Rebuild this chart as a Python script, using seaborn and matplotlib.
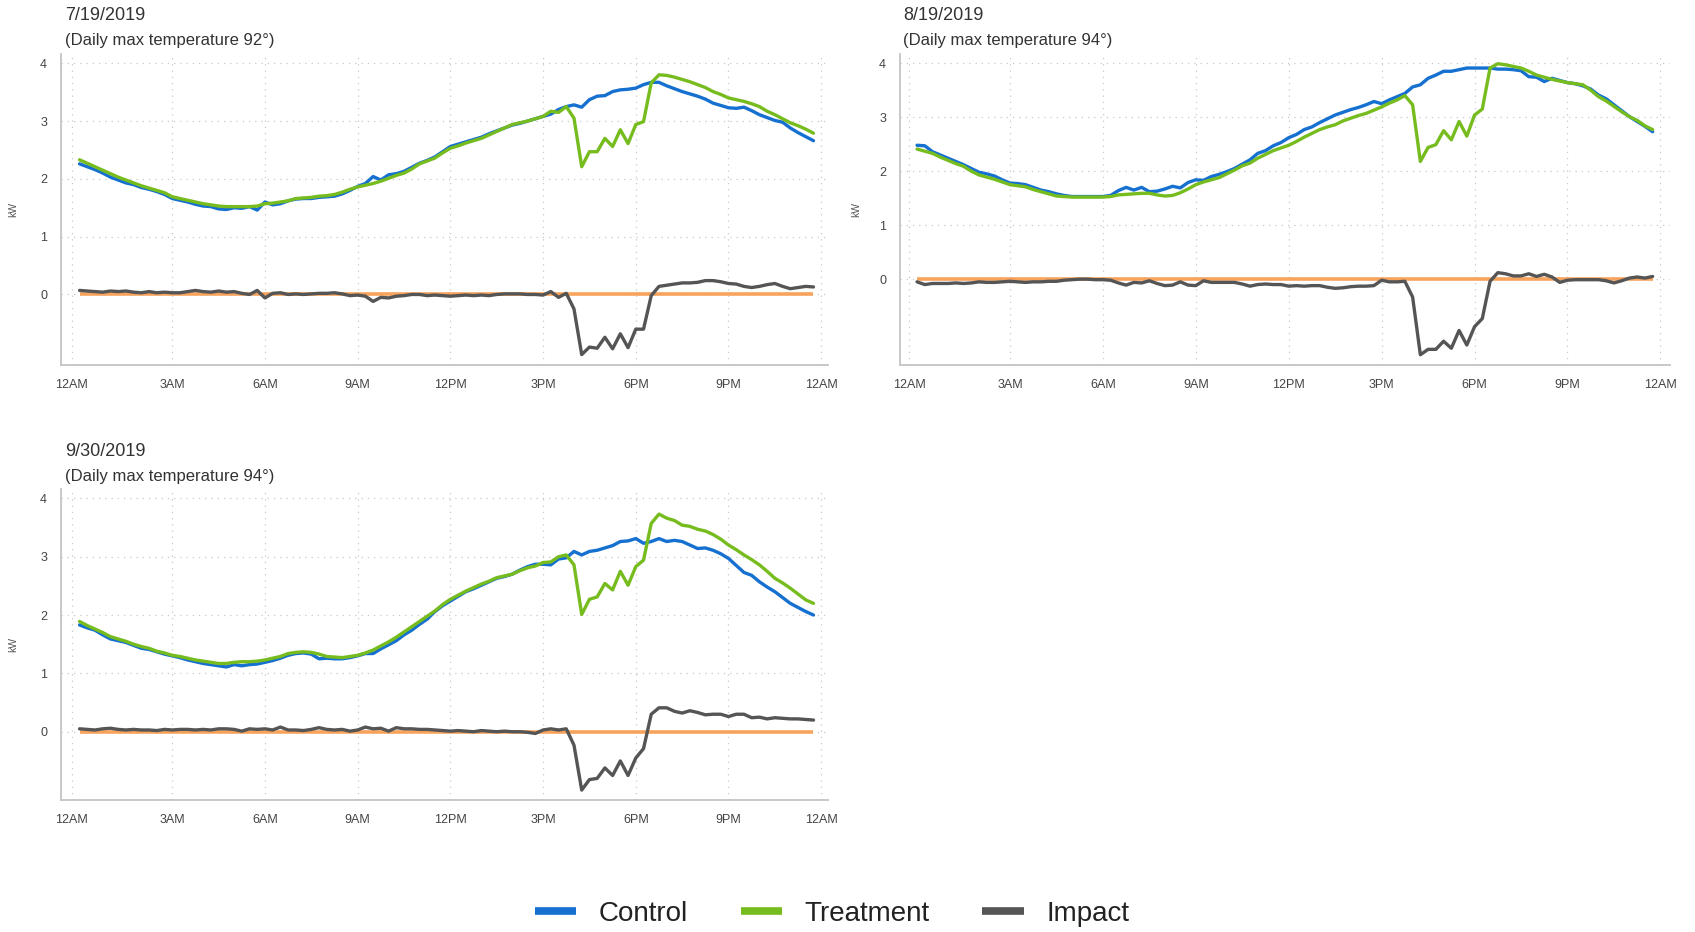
import numpy as np
import pandas as pd
import matplotlib
matplotlib.use("Agg")
import matplotlib.pyplot as plt
import seaborn as sns
from matplotlib.lines import Line2D

# ---------------- data (15-minute intervals, hours after midnight) ----------------
times = np.arange(96) * 0.25

jul_control = [
    2.26, 2.21, 2.16, 2.10, 2.03, 1.98, 1.93, 1.90, 1.85, 1.82, 1.78, 1.73,
    1.66, 1.63, 1.60, 1.56, 1.53, 1.52, 1.48, 1.47, 1.50, 1.49, 1.52, 1.46,
    1.60, 1.55, 1.57, 1.62, 1.65, 1.66, 1.66, 1.68, 1.69, 1.70, 1.74, 1.80,
    1.87, 1.92, 2.04, 1.98, 2.07, 2.09, 2.13, 2.20, 2.27, 2.32, 2.38, 2.47,
    2.56, 2.60, 2.64, 2.68, 2.72, 2.78, 2.83, 2.88, 2.93, 2.96, 3.00, 3.04,
    3.08, 3.12, 3.20, 3.25, 3.28, 3.24, 3.37, 3.43, 3.44, 3.51, 3.54, 3.55,
    3.57, 3.63, 3.67, 3.67, 3.61, 3.56, 3.51, 3.47, 3.43, 3.38, 3.31, 3.27,
    3.23, 3.22, 3.24, 3.18, 3.11, 3.06, 3.01, 2.98, 2.88, 2.80, 2.73, 2.66]
jul_treatment = [
    2.33, 2.27, 2.21, 2.15, 2.09, 2.03, 1.98, 1.93, 1.88, 1.84, 1.80, 1.76,
    1.69, 1.66, 1.63, 1.60, 1.57, 1.55, 1.53, 1.52, 1.52, 1.52, 1.52, 1.53,
    1.57, 1.58, 1.60, 1.62, 1.66, 1.67, 1.68, 1.70, 1.71, 1.73, 1.77, 1.82,
    1.86, 1.89, 1.92, 1.96, 2.01, 2.06, 2.10, 2.17, 2.26, 2.31, 2.36, 2.45,
    2.53, 2.57, 2.62, 2.66, 2.70, 2.76, 2.82, 2.88, 2.94, 2.97, 3.00, 3.04,
    3.08, 3.17, 3.15, 3.25, 3.05, 2.21, 2.47, 2.47, 2.70, 2.56, 2.85, 2.61,
    2.94, 2.99, 3.66, 3.80, 3.79, 3.76, 3.72, 3.68, 3.63, 3.58, 3.51, 3.46,
    3.40, 3.37, 3.34, 3.30, 3.25, 3.17, 3.11, 3.04, 2.97, 2.92, 2.86, 2.79]
jul_impact = [
    0.07, 0.06, 0.05, 0.04, 0.06, 0.05, 0.06, 0.04, 0.03, 0.05, 0.03, 0.04,
    0.03, 0.03, 0.05, 0.07, 0.05, 0.04, 0.06, 0.04, 0.05, 0.02, 0.00, 0.07,
    -0.06, 0.02, 0.03, 0.00, 0.01, 0.00, 0.01, 0.02, 0.02, 0.03, 0.01, -0.02,
    -0.01, -0.03, -0.12, -0.05, -0.06, -0.03, -0.02, 0.00, 0.00, -0.02, -0.01, -0.02,
    -0.03, -0.02, -0.01, -0.02, -0.01, -0.02, 0.00, 0.01, 0.01, 0.01, 0.00, 0.00,
    -0.01, 0.05, -0.05, 0.02, -0.25, -1.04, -0.91, -0.93, -0.74, -0.94, -0.68, -0.92,
    -0.60, -0.60, -0.02, 0.14, 0.16, 0.18, 0.20, 0.20, 0.21, 0.24, 0.24, 0.22,
    0.19, 0.18, 0.14, 0.12, 0.14, 0.17, 0.19, 0.14, 0.10, 0.12, 0.14, 0.13]

aug_control = [
    2.48, 2.47, 2.36, 2.30, 2.24, 2.18, 2.12, 2.05, 1.98, 1.95, 1.91, 1.84,
    1.78, 1.77, 1.75, 1.70, 1.65, 1.62, 1.58, 1.55, 1.53, 1.53, 1.53, 1.53,
    1.53, 1.55, 1.64, 1.70, 1.65, 1.70, 1.62, 1.63, 1.67, 1.72, 1.69, 1.79,
    1.84, 1.83, 1.90, 1.94, 1.99, 2.05, 2.13, 2.21, 2.33, 2.38, 2.47, 2.53,
    2.62, 2.68, 2.77, 2.82, 2.90, 2.97, 3.04, 3.09, 3.14, 3.18, 3.23, 3.29,
    3.25, 3.32, 3.38, 3.44, 3.56, 3.60, 3.72, 3.78, 3.85, 3.85, 3.88, 3.91,
    3.91, 3.91, 3.91, 3.89, 3.89, 3.88, 3.86, 3.75, 3.74, 3.66, 3.72, 3.68,
    3.64, 3.62, 3.58, 3.52, 3.41, 3.34, 3.23, 3.12, 3.01, 2.92, 2.83, 2.73]
aug_treatment = [
    2.41, 2.37, 2.33, 2.26, 2.20, 2.14, 2.09, 2.00, 1.93, 1.89, 1.85, 1.80,
    1.75, 1.73, 1.71, 1.66, 1.62, 1.58, 1.54, 1.53, 1.52, 1.52, 1.52, 1.52,
    1.52, 1.53, 1.56, 1.57, 1.58, 1.59, 1.59, 1.56, 1.54, 1.55, 1.60, 1.67,
    1.75, 1.80, 1.84, 1.88, 1.95, 2.02, 2.10, 2.15, 2.24, 2.31, 2.38, 2.43,
    2.48, 2.55, 2.63, 2.70, 2.77, 2.82, 2.86, 2.93, 2.98, 3.03, 3.07, 3.13,
    3.19, 3.26, 3.32, 3.40, 3.23, 2.18, 2.44, 2.49, 2.75, 2.58, 2.92, 2.65,
    3.04, 3.15, 3.91, 3.99, 3.97, 3.94, 3.91, 3.85, 3.78, 3.74, 3.70, 3.67,
    3.64, 3.62, 3.60, 3.50, 3.38, 3.30, 3.20, 3.10, 3.01, 2.94, 2.84, 2.77]
aug_impact = [
    -0.05, -0.10, -0.08, -0.08, -0.08, -0.07, -0.08, -0.07, -0.05, -0.06, -0.06, -0.05,
    -0.04, -0.05, -0.06, -0.05, -0.05, -0.04, -0.04, -0.02, -0.01, 0.00, 0.00, -0.01,
    -0.01, -0.02, -0.07, -0.11, -0.06, -0.07, -0.03, -0.08, -0.12, -0.11, -0.05, -0.11,
    -0.12, -0.03, -0.06, -0.06, -0.06, -0.06, -0.09, -0.13, -0.10, -0.09, -0.10, -0.10,
    -0.13, -0.12, -0.13, -0.12, -0.12, -0.15, -0.17, -0.16, -0.14, -0.13, -0.13, -0.12,
    -0.02, -0.05, -0.05, -0.04, -0.33, -1.40, -1.30, -1.30, -1.15, -1.28, -0.95, -1.22,
    -0.88, -0.73, -0.04, 0.12, 0.10, 0.06, 0.06, 0.10, 0.05, 0.09, 0.04, -0.06,
    -0.02, -0.01, -0.01, -0.01, -0.01, -0.03, -0.07, -0.03, 0.02, 0.04, 0.02, 0.05]

sep_control = [
    1.83, 1.78, 1.74, 1.66, 1.59, 1.56, 1.53, 1.48, 1.43, 1.41, 1.37, 1.33,
    1.30, 1.27, 1.23, 1.20, 1.17, 1.15, 1.13, 1.11, 1.15, 1.13, 1.15, 1.16,
    1.19, 1.22, 1.26, 1.31, 1.34, 1.35, 1.33, 1.25, 1.26, 1.25, 1.25, 1.27,
    1.30, 1.34, 1.34, 1.42, 1.49, 1.56, 1.66, 1.74, 1.84, 1.93, 2.06, 2.16,
    2.24, 2.32, 2.40, 2.45, 2.51, 2.57, 2.63, 2.66, 2.70, 2.77, 2.83, 2.87,
    2.87, 2.86, 2.96, 2.98, 3.09, 3.03, 3.09, 3.11, 3.15, 3.19, 3.26, 3.27,
    3.31, 3.23, 3.26, 3.31, 3.26, 3.28, 3.26, 3.20, 3.14, 3.15, 3.11, 3.05,
    2.97, 2.85, 2.73, 2.68, 2.57, 2.48, 2.40, 2.30, 2.20, 2.13, 2.06, 2.00]
sep_treatment = [
    1.89, 1.82, 1.76, 1.70, 1.63, 1.59, 1.55, 1.50, 1.46, 1.43, 1.38, 1.35,
    1.31, 1.29, 1.26, 1.23, 1.21, 1.19, 1.17, 1.17, 1.19, 1.20, 1.20, 1.21,
    1.23, 1.26, 1.29, 1.34, 1.36, 1.37, 1.36, 1.33, 1.29, 1.28, 1.27, 1.29,
    1.31, 1.35, 1.40, 1.47, 1.54, 1.62, 1.71, 1.80, 1.89, 1.98, 2.07, 2.18,
    2.27, 2.34, 2.41, 2.47, 2.53, 2.58, 2.64, 2.67, 2.70, 2.76, 2.81, 2.84,
    2.90, 2.91, 3.00, 3.03, 2.86, 2.01, 2.27, 2.31, 2.54, 2.43, 2.75, 2.51,
    2.83, 2.94, 3.57, 3.73, 3.66, 3.62, 3.54, 3.52, 3.47, 3.44, 3.38, 3.30,
    3.20, 3.12, 3.03, 2.95, 2.86, 2.75, 2.63, 2.55, 2.46, 2.36, 2.26, 2.20]
sep_impact = [
    0.05, 0.04, 0.03, 0.05, 0.06, 0.04, 0.03, 0.04, 0.03, 0.03, 0.02, 0.04,
    0.03, 0.04, 0.04, 0.03, 0.04, 0.03, 0.05, 0.05, 0.04, 0.01, 0.05, 0.04,
    0.05, 0.03, 0.08, 0.03, 0.03, 0.02, 0.04, 0.07, 0.04, 0.03, 0.04, 0.01,
    0.03, 0.08, 0.05, 0.06, 0.01, 0.07, 0.05, 0.05, 0.04, 0.04, 0.03, 0.02,
    0.01, 0.02, 0.01, 0.00, 0.02, 0.01, 0.00, 0.01, 0.00, 0.00, -0.01, -0.03,
    0.03, 0.05, 0.03, 0.05, -0.23, -1.00, -0.82, -0.80, -0.62, -0.75, -0.50, -0.75,
    -0.45, -0.29, 0.30, 0.41, 0.41, 0.35, 0.32, 0.36, 0.33, 0.29, 0.30, 0.30,
    0.26, 0.30, 0.30, 0.24, 0.25, 0.22, 0.24, 0.23, 0.22, 0.22, 0.21, 0.20]

panel_dates = ["7/19/2019", "8/19/2019", "9/30/2019"]
panel_temps = ["92°", "94°", "94°"]
series_names = ["Control", "Treatment", "Impact"]
tick_hours = [-0.25, 3, 6, 9, 12, 15, 18, 21, 24]
tick_labels = ["12AM", "3AM", "6AM", "9AM", "12PM", "3PM", "6PM", "9PM", "12AM"]

colors = {"Control": "#1570D0", "Treatment": "#77BC1F", "Impact": "#555555"}
zero_color = "#F7A35C"

panel_data = [
    (jul_control, jul_treatment, jul_impact),
    (aug_control, aug_treatment, aug_impact),
    (sep_control, sep_treatment, sep_impact),
]

# ---------------- layout ----------------
W, H = 1695, 932
sns.set_theme(style="white")
plt.rcParams["font.family"] = ["Liberation Sans", "DejaVu Sans"]

fig = plt.figure(figsize=(W / 100, H / 100), dpi=100)

# pixel boxes: left, top, right, bottom
boxes = [(61, 54, 828, 365), (900, 54, 1670, 365), (61, 489, 828, 800)]
ylims = [(-1.22, 4.16), (-1.59, 4.17), (-1.17, 4.16)]
xlims = [(-0.60, 24.22), (-0.55, 24.31), (-0.60, 24.22)]
title_pos = [(65, 16, 40), (903, 16, 40), (65, 452, 476)]
klabel_x = [-0.056, -0.05, -0.056]

for i, (box, (c, t, im)) in enumerate(zip(boxes, panel_data)):
    l, tp, r, b = box
    ax = fig.add_axes([l / W, 1 - b / H, (r - l) / W, (b - tp) / H])
    df = pd.DataFrame({
        "time": np.concatenate([times, times, times]),
        "kW": np.concatenate([c, t, im]),
        "series": np.repeat(series_names, len(times)),
    })
    ax.hlines(0, times[0], times[-1], color=zero_color, lw=2.6, zorder=1)
    sns.lineplot(data=df, x="time", y="kW", hue="series", hue_order=series_names,
                 palette=colors, linewidth=2.4, legend=False, ax=ax, zorder=2)
    ax.set_xlim(*xlims[i])
    ax.set_ylim(*ylims[i])
    ax.set_xticks(tick_hours)
    ax.set_xticklabels(tick_labels)
    ax.set_yticks([0, 1, 2, 3, 4])
    ax.set_xlabel("")
    ax.set_ylabel("kW", fontsize=7.5, color="#555555")
    ax.yaxis.set_label_coords(klabel_x[i], 0.5)
    ax.grid(True, linestyle=(0, (1, 4)), color="#C8C8C8", linewidth=0.9)
    for s in ["top", "right"]:
        ax.spines[s].set_visible(False)
    for s in ["left", "bottom"]:
        ax.spines[s].set_color("#C4C4C4")
        ax.spines[s].set_linewidth(1.3)
    ax.tick_params(axis="both", which="both", direction="out", length=4, width=1,
                   color="#C4C4C4", labelsize=9, labelcolor="#444444")
    ax.tick_params(axis="x", pad=6)
    ax.tick_params(axis="y", pad=6)
    ax.set_facecolor("white")

    tx, ty1, ty2 = title_pos[i]
    fig.text(tx / W, 1 - ty1 / H, panel_dates[i], fontsize=13, color="#333333",
             ha="left", va="center")
    fig.text(tx / W, 1 - ty2 / H, f"(Daily max temperature {panel_temps[i]})",
             fontsize=12, color="#333333", ha="left", va="center")

handles = [Line2D([0], [0], color=colors[n], lw=5.5, solid_capstyle="butt") for n in series_names]
fig.legend(handles, series_names, loc="center", bbox_to_anchor=(832 / W, 1 - 914 / H),
           ncol=3, frameon=False, fontsize=20, handlelength=1.5, handletextpad=0.8,
           columnspacing=1.9, labelcolor="#222222")

fig.savefig("out.png", dpi=100, facecolor="white")
